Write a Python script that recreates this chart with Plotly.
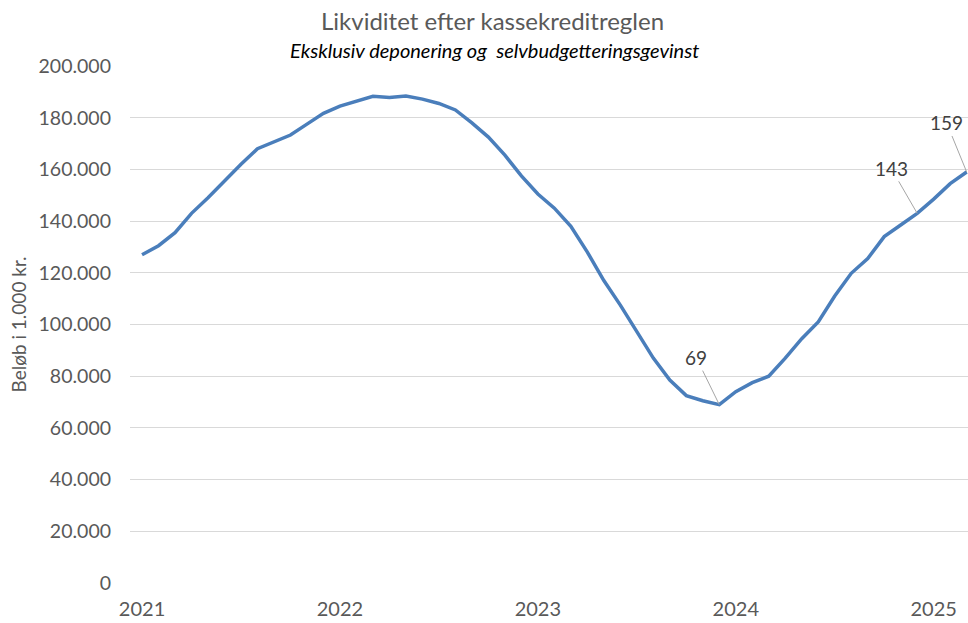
import plotly.graph_objects as go

# Monthly data, Jan 2021 .. Mar 2025 (amounts in 1.000 kr.)
months = [f"{y}-{m:02d}" for y in range(2021, 2026) for m in range(1, 13)][:51]
values = [127000, 130500, 135500, 143000, 149000, 155500, 162000, 168000, 170500, 173300,
          177500, 181700, 184500, 186500, 188300, 187800, 188400, 187200, 185500, 183000,
          178000, 172500, 165500, 157500, 150500, 145000, 138000, 128000, 117000, 107500,
          97000, 87000, 78500, 72500, 70500, 69000, 74000, 77500, 80000, 87000,
          94500, 101000, 111000, 119800, 125500, 134000, 138500, 143000, 148500, 154500,
          159000]
year_labels = ["2021", "2022", "2023", "2024", "2025"]
labelled_months = ["2023-12", "2024-12", "2025-03"]

title = "Likviditet efter kassekreditreglen"
subtitle = "Eksklusiv deponering og  selvbudgetteringsgevinst"
y_title = "Beløb i 1.000 kr."

x_idx = list(range(len(months)))
tick_idx = [months.index(y + "-01") for y in year_labels]

fig = go.Figure()
fig.add_trace(go.Scatter(
    x=x_idx, y=values, mode="lines",
    line=dict(color="#4a7ebb", width=3.5),
    hoverinfo="skip", showlegend=False,
))

FONT = "Lato, 'Open Sans', sans-serif"
offsets = {"2023-12": (-23, -47), "2024-12": (-26, -45), "2025-03": (-20, -49)}
annotations = []
for m in labelled_months:
    i = months.index(m)
    ax, ay = offsets[m]
    annotations.append(dict(
        x=i, y=values[i], xref="x", yref="y",
        text=str(round(values[i] / 1000)),
        showarrow=True, arrowhead=0, arrowwidth=1, arrowcolor="#a6a6a6",
        ax=ax, ay=ay, standoff=0,
        font=dict(family=FONT, size=19, color="#404040"),
    ))

annotations.append(dict(
    text=title, xref="paper", yref="paper", x=(492 - 130) / 838, y=1 + (66 - 21) / 517,
    showarrow=False, xanchor="center", yanchor="middle",
    font=dict(family=FONT, size=24, color="#595959"),
))
annotations.append(dict(
    text="<i>" + subtitle + "</i>", xref="paper", yref="paper", x=(494 - 130) / 838,
    y=1 + (66 - 50) / 517, showarrow=False, xanchor="center", yanchor="middle",
    font=dict(family=FONT, size=20, color="#000000"),
))
annotations.append(dict(
    text=y_title, xref="paper", yref="paper", x=(18 - 130) / 838, y=0.5,
    showarrow=False, xanchor="center", yanchor="middle", textangle=-90,
    font=dict(family=FONT, size=19, color="#595959"),
))

fig.update_layout(
    width=968, height=623,
    margin=dict(l=130, r=0, t=66, b=40),
    paper_bgcolor="white", plot_bgcolor="white",
    separators=",.",
    annotations=annotations,
    font=dict(family=FONT, color="#595959"),
)
fig.update_xaxes(
    range=[-0.73, 50.08], tickvals=tick_idx, ticktext=year_labels,
    showgrid=False, zeroline=False, showline=False, ticks="",
    ticklabelstandoff=12,
    tickfont=dict(size=20, color="#595959"), fixedrange=True,
)
fig.update_yaxes(
    range=[0, 200000], dtick=20000, tickformat=",.0f",
    showgrid=True, gridcolor="#d9d9d9", gridwidth=1, zeroline=False,
    showline=False, ticks="", ticklabelstandoff=18,
    tickfont=dict(size=19.5, color="#595959"), fixedrange=True,
)

fig.write_html("out.html", config={"displayModeBar": False},
               post_script="document.body.style.margin='0';")
